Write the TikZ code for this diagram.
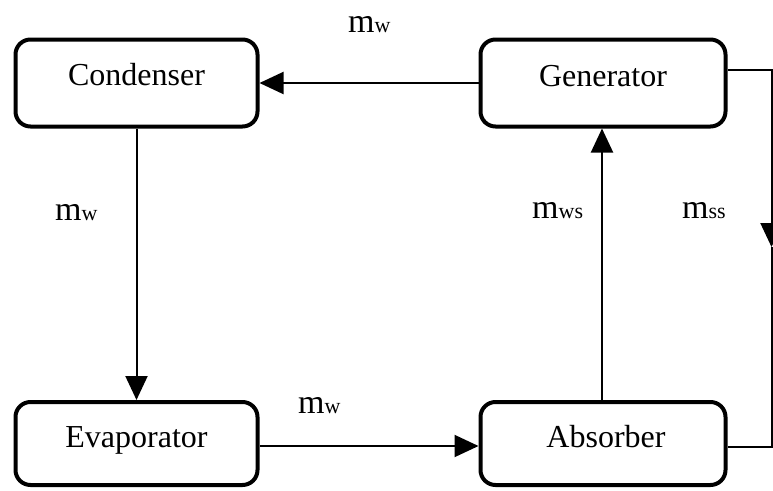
\documentclass[tikz,border=0pt]{standalone}
\usepackage{fontspec}
\setmainfont{Liberation Serif}
\usetikzlibrary{arrows.meta}
\newcommand{\flowrate}[1]{{\fontsize{34}{40}\selectfont m}{\fontsize{22}{26}\selectfont #1}}
\begin{document}
\begin{tikzpicture}[x=1pt,y=-1pt,
  unit/.style={draw, line width=4pt, rounded corners=15pt, inner sep=0pt},
  unitname/.style={font=\fontsize{32}{38}\selectfont, inner sep=0pt, anchor=base},
  flow/.style={line width=2pt, -{Triangle[length=24pt,width=22pt]}},
  pipe/.style={line width=2pt},
  rate/.style={anchor=base west, inner sep=0pt}]
\useasboundingbox (0,0) rectangle (773,490);
\clip (0,0) rectangle (773,490);

% components
\node[unit, minimum width=242pt, minimum height=87pt] (cond) at (136.5,83) {};
\node[unit, minimum width=245pt, minimum height=87pt] (gen)  at (603,83) {};
\node[unit, minimum width=242pt, minimum height=83pt] (evap) at (136.5,443.5) {};
\node[unit, minimum width=245pt, minimum height=83pt] (abs)  at (603,443.5) {};

\node[unitname] (condtext) at (136.5,85) {Condenser};
\node[unitname] (gentext)  at (603,86) {Generator};
\node[unitname] (evaptext) at (136.5,447) {Evaporator};
\node[unitname] (abstext)  at (606,447) {Absorber};

% refrigerant loop
\draw[flow] (gen.west) -- (cond.east);
\draw[flow] (cond.south) -- (evap.north);
\draw[flow] (evap.east |- 0,446) -- (abs.west |- 0,446);

% solution loop
\draw[flow] (abs.north -| 602,0) -- (gen.south -| 602,0);
\coordinate (gcorner) at (771.5,70);
\coordinate (ssarrow) at (771.5,247);
\coordinate (acorner) at (771.5,447);
\draw[flow] (gen.east |- gcorner) -- (gcorner) -- (ssarrow);
\draw[pipe] (ssarrow) -- (acorner) -- (abs.east |- acorner);

% flow labels
\node[rate] (l1) at (348,32) {\flowrate{w}};
\node[rate] (l2) at (55,220) {\flowrate{w}};
\node[rate] (l3) at (532,218) {\flowrate{ws}};
\node[rate] (l4) at (682,218) {\flowrate{ss}};
\node[rate] (l5) at (298,413) {\flowrate{w}};
\end{tikzpicture}
\end{document}
